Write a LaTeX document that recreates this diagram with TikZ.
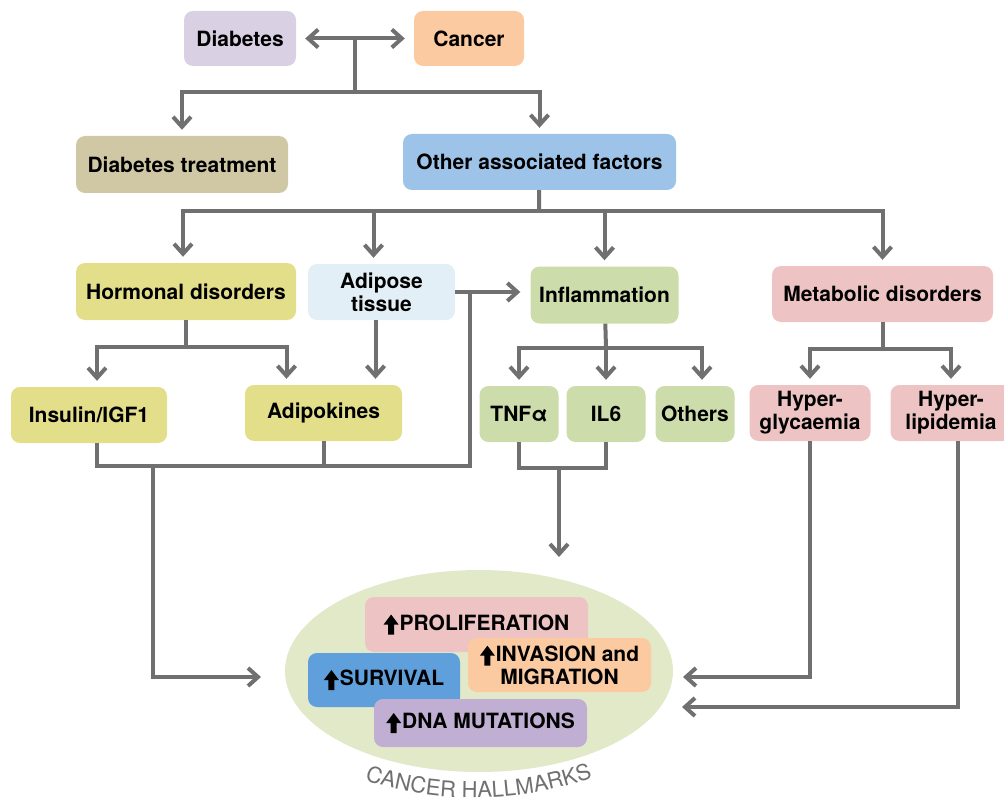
\documentclass[tikz,border=0pt]{standalone}
\usepackage{fontspec}
\setmainfont{TeX Gyre Heros}
\usetikzlibrary{arrows.meta,shapes.geometric,decorations.text}

\definecolor{linegray}{RGB}{112,112,112}
\definecolor{hallgray}{RGB}{112,112,112}
\definecolor{diabcol}{RGB}{217,208,227}
\definecolor{canccol}{RGB}{251,202,160}
\definecolor{treatcol}{RGB}{208,200,164}
\definecolor{oafcol}{RGB}{158,195,232}
\definecolor{hormcol}{RGB}{227,222,138}
\definecolor{adipcol}{RGB}{226,239,246}
\definecolor{inflcol}{RGB}{205,220,171}
\definecolor{metacol}{RGB}{237,196,195}
\definecolor{ellcol}{RGB}{225,233,201}
\definecolor{survcol}{RGB}{94,159,220}
\definecolor{dnacol}{RGB}{192,174,211}

% heavy up arrow in front of the hallmarks
\newcommand{\upmark}{\tikz[x=1pt, y=1pt, baseline=4.5pt, sharp corners]
  \fill[black] (-3,0) -- (3,0) -- (3,10) -- (7.5,10) -- (0,20) -- (-7.5,10) -- (-3,10) -- cycle;\kern1pt}

\tikzset{
  barb/.tip={Straight Barb[length=10pt,width=18pt]},
  box/.style={rounded corners=9pt, align=center, inner sep=0pt, minimum height=56pt,
    font=\fontsize{21}{23}\selectfont\bfseries},
  link/.style={draw=linegray, line width=4pt},
  arr/.style={link, -barb, shorten >=6pt},
}

\begin{document}
\begin{tikzpicture}[x=1pt, y=-1pt]
    \useasboundingbox (0,0) rectangle (1004,805);

    % top level
    \node[box, fill=diabcol, minimum width=112pt, minimum height=55pt] (diab) at (240,38.5) {Diabetes};
    \node[box, fill=canccol, minimum width=110pt, minimum height=55pt] (canc) at (469,38.5) {Cancer};
    \node[box, fill=treatcol, minimum width=212pt, minimum height=57pt] (treat) at (182,164.5) {Diabetes treatment};
    \node[box, fill=oafcol, minimum width=273pt] (oaf) at (539.5,162) {Other associated factors};

    % factors
    \node[box, fill=hormcol, minimum width=220pt, minimum height=57pt] (horm) at (186,291.5) {Hormonal disorders};
    \node[box, fill=adipcol, minimum width=147pt] (adip) at (381.5,292) {Adipose\\tissue};
    \node[box, fill=inflcol, minimum width=148pt, minimum height=57pt] (infl) at (604.5,295) {Inflammation};
    \node[box, fill=metacol, minimum width=221pt] (meta) at (882.5,294) {Metabolic disorders};

    \node[box, fill=hormcol, minimum width=156pt] (ins) at (89,415) {Insulin/IGF1};
    \node[box, fill=hormcol, minimum width=157pt] (adk) at (323.5,413) {Adipokines};
    \node[box, fill=inflcol, minimum width=79pt] (tnf) at (519,414) {TNFα};
    \node[box, fill=inflcol, minimum width=79pt] (il6) at (606,414) {IL6};
    \node[box, fill=inflcol, minimum width=79pt] (oth) at (695,414) {Others};
    \node[box, fill=metacol, minimum width=121pt] (glyc) at (810,413) {Hyper-\\glycaemia};
    \node[box, fill=metacol, minimum width=121pt] (lipid) at (951,413) {Hyper-\\lipidemia};

    % hallmarks
    \node[ellipse, fill=ellcol, minimum width=388pt, minimum height=202pt] (hallmarks) at (479,671) {};
    \node[box, fill=metacol, minimum width=223pt, minimum height=55pt] (prol) at (476.5,624.5) {\upmark PROLIFERATION};
    \node[box, fill=canccol, minimum width=183pt, minimum height=54pt] (inv) at (559.5,665) {\upmark INVASION and\\MIGRATION};
    \node[box, fill=survcol, minimum width=152pt, minimum height=54pt] (surv) at (384,680) {\upmark SURVIVAL};
    \node[box, fill=dnacol, minimum width=213pt, minimum height=48pt] (dna) at (480.5,723) {\upmark DNA MUTATIONS};
    \path[decorate, decoration={text along path, text align=center,
        text={|\fontsize{22}{22}\selectfont\color{hallgray}|CANCER HALLMARKS}}]
        (356,777) .. controls (430,805) and (525,805) .. (601,774);

    % junctions
    \path (diab.east) -- coordinate[midway] (dcmid) (canc.west);
    \coordinate (split1) at (355,92);
    \coordinate (split2) at (539,211);
    \coordinate (split3) at (186,347);
    \coordinate (split4) at (606,348);
    \coordinate (split5) at (882.5,349);
    \coordinate (tap) at (470,292);
    \coordinate (join1) at (470,466);
    \coordinate (drop1) at (153,466);
    \coordinate (join2) at (559,468);
    \coordinate (hl) at (261,677);
    \coordinate (ht) at (559,557);
    \coordinate (hr1) at (683,677);
    \coordinate (hr2) at (682,707);

    \draw[link, barb-barb, shorten <=9pt, shorten >=9pt] (diab) -- (canc);
    \draw[link] (dcmid) -- (split1);
    \draw[arr] (split1) -| (treat);
    \draw[arr] (split1) -| (oaf);

    \draw[link] (oaf) -- (split2);
    \draw[arr] (split2) -| ([xshift=-3pt]horm.north);
    \draw[arr] (split2) -| ([xshift=-8pt]adip.north);
    \draw[arr] (split2) -| (infl);
    \draw[arr] (split2) -| (meta);

    \draw[arr, shorten >=10pt] (adip.east) -- (adip.east -| infl.west);
    \draw[link] (horm) -- (split3);
    \draw[arr] (split3) -| ([xshift=8pt]ins.north);
    \draw[arr] (split3) -| ([xshift=-37pt]adk.north);
    \draw[arr] ([xshift=-6pt]adip.south) -- ([xshift=-6pt]adip.south |- adk.north);

    \draw[link] ([xshift=8pt]ins.south) |- (join1) -- (tap);
    \draw[link] (adk.south) -- (adk.south |- join1);
    \draw[arr, shorten >=0pt] (drop1) |- (hl);

    \draw[link] (infl) -- (split4);
    \draw[arr] (split4) -| (tnf);
    \draw[arr] (split4) -- (il6);
    \draw[arr] (split4) -| ([xshift=7pt]oth.north);
    \draw[link] (tnf.south) |- (join2) -| (il6.south);
    \draw[arr, shorten >=0pt] (join2) -- (ht);

    \draw[link] (meta) -- (split5);
    \draw[arr] (split5) -| (glyc);
    \draw[arr] (split5) -| (lipid);
    \draw[arr, shorten >=0pt] (glyc) |- (hr1);
    \draw[arr, shorten >=0pt] ([xshift=7pt]lipid.south) |- (hr2);
\end{tikzpicture}
\end{document}
